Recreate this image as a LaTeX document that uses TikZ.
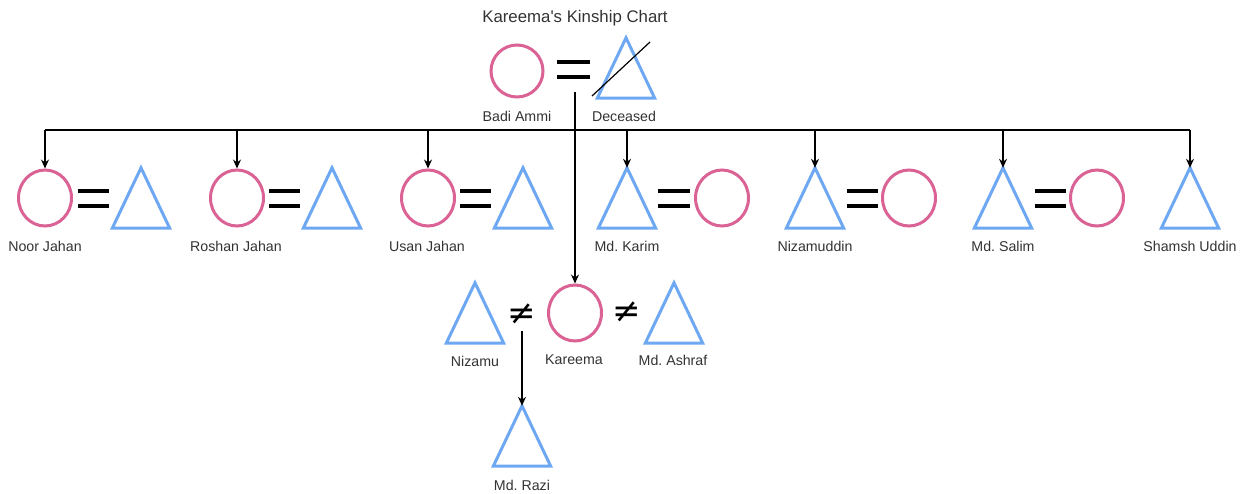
\documentclass[tikz,border=0pt]{standalone}
\usepackage{fontspec}
\setmainfont{Liberation Sans}
\newfontfamily\plainfont{Liberation Sans}
\newfontfamily\symfont{DejaVu Sans}
\usetikzlibrary{shapes.geometric,arrows.meta}
\definecolor{fem}{RGB}{218,98,148}
\definecolor{mal}{RGB}{110,168,242}
\definecolor{txt}{RGB}{51,51,51}
\frenchspacing
\tikzset{
  female/.style={ellipse,draw=fem,line width=3pt,minimum width=53pt,minimum height=56pt,inner sep=0pt},
  malebox/.style={rectangle,draw=none,minimum width=57pt,minimum height=60pt,inner sep=0pt},
  tri/.style={draw=mal,line width=3pt,line join=miter},
  lbl/.style={text=txt,font=\fontsize{14.2}{16}\selectfont,inner sep=0pt},
  eqbar/.style={line width=4.8pt},
  neq/.style={font=\symfont\fontsize{34}{34}\selectfont,inner sep=0pt},
  conn/.style={line width=1.2pt,-{Stealth[length=9pt,width=8pt]}},
  plain/.style={line width=1.2pt}
}
\newcommand{\maletri}[1]{\draw[tri] (#1.north) -- (#1.south east) -- (#1.south west) -- cycle;}
\begin{document}
\begin{tikzpicture}[x=1pt,y=-1pt]
\useasboundingbox (0,0) rectangle (1243,493);
\fill[white] (0,0) rectangle (1243,493);

% title
\node[text=txt,font=\plainfont\fontsize{16.8}{18}\selectfont,inner sep=0pt] (title) at (575,18) {Kareema's Kinship Chart};

% top couple
\node[female,minimum width=52pt,minimum height=52pt] (badi) at (517,71) {};
\draw[eqbar] (557,62) -- (590,62);
\draw[eqbar] (557,77) -- (590,77);
\node[malebox] (dec) at (626,68) {};
\maletri{dec}
\draw[line width=1.2pt] (592,96) -- (650,42);
\node[lbl] (lbadi) at (517,116) {Badi Ammi};
\node[lbl] (ldec) at (624,116) {Deceased};

% row 2
% Noor Jahan
\node[female] (noor) at (45,198) {};
\draw[eqbar] (78,191) -- (109,191);
\draw[eqbar] (78,206) -- (109,206);
\node[malebox] (noorh) at (141,198) {};
\maletri{noorh}
\node[lbl] (lnoor) at (45,246) {Noor Jahan};

% Roshan Jahan
\node[female] (roshan) at (237,198) {};
\draw[eqbar] (269,191) -- (300,191);
\draw[eqbar] (269,206) -- (300,206);
\node[malebox] (roshanh) at (332,198) {};
\maletri{roshanh}
\node[lbl] (lroshan) at (236,246) {Roshan Jahan};

% Usan Jahan
\node[female] (usan) at (428,198) {};
\draw[eqbar] (460,191) -- (491,191);
\draw[eqbar] (460,206) -- (491,206);
\node[malebox] (usanh) at (523,198) {};
\maletri{usanh}
\node[lbl] (lusan) at (427,246) {Usan Jahan};

% Md. Karim
\node[malebox] (karim) at (627,198) {};
\maletri{karim}
\draw[eqbar] (658,191) -- (690,191);
\draw[eqbar] (658,206) -- (690,206);
\node[female] (karimw) at (722,198) {};
\node[lbl] (lkarim) at (627,246) {Md. Karim};

% Nizamuddin
\node[malebox] (nizam) at (815,198) {};
\maletri{nizam}
\draw[eqbar] (847,191) -- (878,191);
\draw[eqbar] (847,206) -- (878,206);
\node[female] (nizamw) at (909,198) {};
\node[lbl] (lnizam) at (815,246) {Nizamuddin};

% Md. Salim
\node[malebox] (salim) at (1003,198) {};
\maletri{salim}
\draw[eqbar] (1035,191) -- (1066,191);
\draw[eqbar] (1035,206) -- (1066,206);
\node[female] (salimw) at (1097,198) {};
\node[lbl] (lsalim) at (1003,246) {Md. Salim};

% Shamsh Uddin
\node[malebox] (shamsh) at (1190,198) {};
\maletri{shamsh}
\node[lbl] (lshamsh) at (1190,246) {Shamsh Uddin};

% row 3
\node[malebox] (nizamu) at (475,313) {};
\maletri{nizamu}
\node[lbl] (lnizamu) at (475,361) {Nizamu};
\node[neq] (ne1) at (522,314) {≠};
\node[female] (kareema) at (575,313) {};
\node[lbl] (lkareema) at (574,360) {Kareema};
\node[neq] (ne2) at (627,312) {≠};
\node[malebox] (ashraf) at (674,313) {};
\maletri{ashraf}
\node[lbl] (lashraf) at (673,360) {Md. Ashraf};

% row 4
\node[malebox] (razi) at (522,436) {};
\maletri{razi}
\node[lbl] (lrazi) at (522,485) {Md. Razi};

% connectors
\coordinate (mar) at (575,92);
\coordinate (bus) at (575,130);
\coordinate (ne1s) at (522,331);
\draw[conn] (mar) -- (kareema.north);
\draw[plain] (bus) -- (bus -| noor.north);
\draw[plain] (bus) -- (bus -| shamsh.north);
\draw[conn] (bus -| noor.north) -- (noor.north);
\draw[conn] (bus -| roshan.north) -- (roshan.north);
\draw[conn] (bus -| usan.north) -- (usan.north);
\draw[conn] (bus -| karim.north) -- (karim.north);
\draw[conn] (bus -| nizam.north) -- (nizam.north);
\draw[conn] (bus -| salim.north) -- (salim.north);
\draw[conn] (bus -| shamsh.north) -- (shamsh.north);
\draw[conn] (ne1s) -- (razi.north);
\end{tikzpicture}
\end{document}
